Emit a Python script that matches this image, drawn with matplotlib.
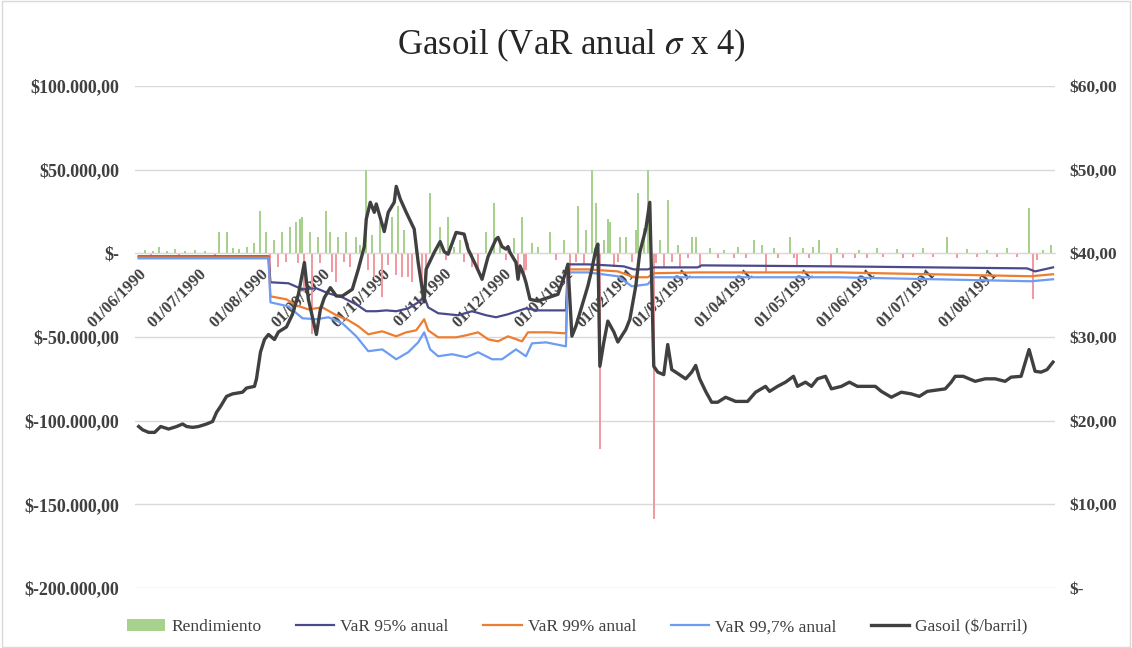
import numpy as np
import pandas as pd
import matplotlib
matplotlib.use('Agg')
import matplotlib.pyplot as plt
import matplotlib.dates as mdates
from matplotlib.ticker import FuncFormatter, MultipleLocator, FixedLocator
from matplotlib.lines import Line2D
from matplotlib.patches import Patch, Rectangle

plt.rcParams['font.family'] = ['Liberation Serif', 'DejaVu Serif']
plt.rcParams['mathtext.fontset'] = 'stix'

# all series indexed in days counted from 01/06/1990
start = pd.Timestamp('1990-06-01')

# Gasoil price ($/barril), right axis
gas_day = [0, 2, 5, 8, 11, 15, 19, 22, 24, 27,
           30, 34, 37, 39, 41, 44, 47, 52, 54, 58,
           59, 61, 63, 65, 68, 70, 74, 77, 80, 83,
           85, 89, 91, 93, 96, 99, 102, 107, 110, 113,
           114, 116, 118, 119, 123, 125, 128, 129, 131, 134,
           138, 140, 143, 144, 148, 151, 153, 155, 159, 163,
           165, 169, 172, 175, 179, 180, 182, 184, 185, 186,
           189, 190, 191, 193, 194, 196, 200, 205, 210, 213,
           215, 217, 219, 222, 225, 227, 229, 230, 231, 233,
           235, 238, 240, 244, 246, 249, 251, 254, 256, 258,
           260, 263, 265, 267, 269, 274, 277, 279, 281, 284,
           287, 290, 294, 299, 305, 309, 314, 316, 320, 324,
           328, 330, 334, 337, 340, 344, 347, 352, 356, 360,
           365, 369, 372, 377, 382, 387, 391, 395, 404, 407,
           409, 413, 419, 424, 429, 434, 437, 442, 446, 449,
           452, 455, 458]
gas_price = [19.3, 18.9, 18.6, 18.6, 19.3, 19.0, 19.3, 19.6, 19.3, 19.2,
             19.3, 19.6, 19.9, 21.0, 21.7, 22.9, 23.2, 23.4, 23.9, 24.1,
             25.0, 28.2, 29.7, 30.3, 29.7, 30.6, 31.2, 32.7, 35.1, 38.9,
             34.5, 30.3, 33.3, 34.7, 35.9, 34.9, 34.9, 35.7, 38.1, 40.8,
             44.1, 46.1, 44.9, 45.9, 42.6, 44.9, 46.1, 48.0, 46.5, 44.9,
             42.9, 38.9, 34.2, 38.1, 40.1, 41.4, 40.2, 39.9, 42.5, 42.3,
             40.5, 38.5, 36.9, 39.6, 41.7, 41.9, 40.8, 40.5, 40.8, 40.1,
             38.9, 36.9, 38.5, 37.3, 36.5, 34.5, 34.3, 34.7, 35.1, 37.1,
             38.7, 30.1, 31.3, 33.7, 36.1, 38.1, 40.5, 41.1, 26.5, 29.4,
             31.9, 30.6, 29.4, 30.9, 32.1, 36.1, 40.1, 42.9, 46.1, 26.5,
             25.8, 25.5, 29.1, 26.1, 25.8, 25.0, 25.8, 26.6, 25.0, 23.5,
             22.2, 22.2, 22.8, 22.3, 22.3, 23.4, 24.1, 23.5, 24.1, 24.6,
             25.3, 24.1, 24.6, 24.1, 25.0, 25.3, 23.8, 24.1, 24.6, 24.1,
             24.1, 24.1, 23.5, 22.8, 23.4, 23.2, 22.9, 23.5, 23.8, 24.6,
             25.3, 25.3, 24.7, 25.0, 25.0, 24.7, 25.2, 25.3, 28.5, 25.9,
             25.8, 26.1, 27.0]

# VaR 95% anual
v95_day = [0, 65, 66, 75, 82, 89, 95, 102, 109, 114, 119, 124, 129, 135, 140,
           143, 145, 150, 155, 160, 167, 174, 179, 185, 194, 200, 214, 215,
           225, 235, 243, 248, 255, 258, 280, 282, 350, 445, 449, 458]
v95_val = [-1800, -1800, -17300, -17900, -21500, -20900, -23900, -26300,
           -30500, -34600, -34600, -34100, -34600, -32900, -29300, -25700,
           -32300, -35800, -36400, -37000, -34600, -37000, -38200, -36400,
           -32900, -34100, -34100, -6600, -6600, -7200, -7800, -9600, -9600,
           -8400, -8400, -7200, -7800, -9000, -10800, -8400]

# VaR 99% anual
v99_day = [0, 65, 66, 74, 79, 85, 92, 99, 105, 110, 115, 122, 129, 134, 139,
           143, 145, 150, 159, 164, 170, 175, 180, 185, 192, 195, 205, 214,
           215, 225, 240, 248, 255, 258, 280, 350, 447, 458]
v99_val = [-2400, -2400, -25700, -27500, -31100, -33500, -32300, -37000,
           -40000, -43600, -48400, -46600, -49600, -47200, -46000, -39400,
           -46000, -50200, -50200, -49000, -47200, -51400, -52600, -49600,
           -52600, -47200, -47200, -47800, -9600, -9600, -10800, -14300,
           -14300, -11900, -11400, -11400, -13700, -12500]

# VaR 99,7% anual
v997_day = [0, 65, 66, 75, 82, 89, 95, 102, 109, 115, 122, 129, 135, 140, 143,
            146, 150, 157, 164, 170, 177, 182, 189, 194, 197, 204, 214, 215,
            225, 240, 247, 255, 258, 280, 350, 447, 458]
v997_val = [-3000, -3000, -29300, -31700, -38800, -39400, -38200, -41800,
            -49600, -58500, -57400, -63300, -59100, -53200, -47200, -57400,
            -61500, -60300, -62100, -59100, -63300, -63300, -57400, -61500,
            -53800, -53200, -55600, -11400, -11400, -13700, -19700, -18500,
            -14300, -14300, -14300, -16700, -15500]

# Rendimiento (daily result)
ren_day = [3, 6, 7, 10, 14, 18, 20, 23, 28, 33,
           38, 40, 44, 47, 50, 54, 58, 61, 64, 66,
           68, 70, 72, 74, 76, 79, 80, 81, 82, 83,
           86, 87, 90, 91, 94, 96, 97, 99, 100, 103,
           104, 106, 109, 111, 114, 115, 117, 118, 121, 122,
           125, 127, 129, 130, 132, 133, 135, 137, 139, 142,
           144, 146, 151, 154, 155, 158, 161, 163, 165, 167,
           170, 174, 178, 181, 184, 185, 188, 190, 192, 193,
           194, 197, 200, 206, 209, 213, 216, 219, 220, 223,
           224, 227, 229, 231, 233, 235, 236, 238, 240, 241,
           244, 247, 249, 250, 253, 255, 258, 259, 261, 263,
           265, 267, 270, 271, 275, 277, 279, 281, 286, 290,
           293, 298, 300, 304, 308, 312, 314, 318, 320, 326,
           328, 330, 333, 336, 338, 341, 347, 350, 353, 359,
           361, 365, 370, 373, 380, 383, 388, 393, 398, 405,
           410, 415, 420, 425, 430, 435, 440, 446, 448, 450,
           453, 457]
ren_val = [2000, -1000, 1500, 3500, 1500, 2500, -1000, 1500, 2000, 1500,
           -1500, 12500, 13000, 3000, 2500, 4000, 6000, 25000, 13000, -18000,
           8000, -8000, 13000, -5000, 16000, 18500, -6000, 20500, 22000, -23000,
           12500, -48000, 10000, -6000, 25000, 12500, -11000, -17000, 10000, -5000,
           13000, -8000, 10000, 5000, 50000, -10000, 11000, -14000, 18500, -26000,
           -7000, 22000, -13000, 28000, -14000, 14000, -14000, -17000, 6000, -29000,
           -10000, 36000, 16000, -4000, 22000, 4000, 8000, -5000, 6000, -8000,
           -9000, 12500, 30000, 8000, -4000, 5000, 9000, -10000, 22000, -15000,
           -10000, 6000, 4000, 12500, -4000, 8000, -13000, -5000, 28000, -7000,
           14000, 50000, 30000, -117000, 8000, 20500, 18500, -8000, -5000, 10000,
           10000, -5000, 14000, 36000, 15000, 50000, -159000, -6000, 8000, -8000,
           32000, -5000, 5000, -8000, -3000, 10000, 10000, -9000, 3000, -3000,
           2000, -3000, 4000, -2500, 8000, 5000, -11000, 3000, -3000, 9500,
           -3000, -8000, 3000, -3000, 4000, 8000, -8000, 3000, -3000, -2500,
           2000, -2500, 3000, -2000, 2500, -2500, -2000, 3000, -2000, 9500,
           -2500, 2500, -2000, 2000, -2000, 3000, -2000, 27000, -27000, -4000,
           2000, 5000]

# month labels on the category axis
month_ticks = pd.date_range('1990-06-01', '1991-08-01', freq='MS')


def to_dates(days):
    return start + pd.to_timedelta(days, unit='D')


def fmt_left(v, pos):
    if abs(v) < 1e-6:
        return '$-'
    s = f'{abs(v):,.2f}'.replace(',', 'X').replace('.', ',').replace('X', '.')
    return ('$-' if v < 0 else '$') + s


def fmt_right(v, pos):
    if abs(v) < 1e-6:
        return '$-'
    return '$' + f'{v:.2f}'.replace('.', ',')


txt = '#404040'
fig = plt.figure(figsize=(11.32, 6.48), dpi=100)
ax = fig.add_axes([0.119, 0.0926, 0.813, 0.7747])

ren_colors = ['#a9d18e' if v >= 0 else '#f09aa2' for v in ren_val]
ax.bar(to_dates(ren_day), ren_val, width=1.0, color=ren_colors, zorder=2)
ax.plot(to_dates(v95_day), v95_val, color='#4b4a8c', lw=1.6, zorder=3)
ax.plot(to_dates(v99_day), v99_val, color='#ed7d31', lw=1.6, zorder=3)
ax.plot(to_dates(v997_day), v997_val, color='#6d9cf2', lw=1.6, zorder=3)

ax.set_ylim(-200000, 100000)
ax.yaxis.set_major_locator(MultipleLocator(50000))
ax.yaxis.set_major_formatter(FuncFormatter(fmt_left))
ax.grid(axis='y', color='#d9d9d9', lw=1)
ax.set_axisbelow(True)
ax.set_xlim(start - pd.Timedelta(days=2), start + pd.Timedelta(days=459))

ax.xaxis.set_major_locator(FixedLocator(mdates.date2num(month_ticks)))
ax.xaxis.set_major_formatter(mdates.DateFormatter('%d/%m/%Y'))
ax.spines['bottom'].set_position(('data', 0))
ax.spines['bottom'].set_color('#d9d9d9')
for s in ['top', 'left', 'right']:
    ax.spines[s].set_visible(False)
ax.tick_params(axis='x', length=0, pad=9, labelsize=12, labelcolor=txt)
ax.tick_params(axis='y', length=0, pad=11, labelsize=13, labelcolor=txt)
for lbl in ax.get_xticklabels():
    lbl.set_rotation(45)
    lbl.set_ha('right')
    lbl.set_rotation_mode('anchor')
    lbl.set_fontweight('bold')
for lbl in ax.get_yticklabels():
    lbl.set_fontweight('bold')

ax2 = ax.twinx()
ax2.plot(to_dates(gas_day), gas_price, color='#404040', lw=2.4, zorder=4)
ax2.set_ylim(0, 60)
ax2.yaxis.set_major_locator(MultipleLocator(10))
ax2.yaxis.set_major_formatter(FuncFormatter(fmt_right))
for s in ax2.spines.values():
    s.set_visible(False)
ax2.tick_params(axis='y', length=0, pad=10, labelsize=12.5, labelcolor=txt)
for lbl in ax2.get_yticklabels():
    lbl.set_fontweight('bold')

fig.text(0.505, 0.93, r'Gasoil (VaR anual $\sigma$ x 4)', ha='center', va='center',
         fontsize=25, color='#262626')

handles = [Patch(facecolor='#a9d18e'),
           Line2D([], [], color='#4b4a8c', lw=1.6),
           Line2D([], [], color='#ed7d31', lw=1.6),
           Line2D([], [], color='#6d9cf2', lw=1.6),
           Line2D([], [], color='#404040', lw=2.4)]
labels = ['Rendimiento', 'VaR 95% anual', 'VaR 99% anual', 'VaR 99,7% anual',
          'Gasoil ($/barril)']
fig.legend(handles, labels, loc='center', bbox_to_anchor=(0.51, 0.032), ncol=5,
           frameon=False, fontsize=12.5, handlelength=2.2, handletextpad=0.35,
           columnspacing=2.0, labelcolor=txt)

fig.patches.append(Rectangle((0.002, 0.002), 0.996, 0.996, transform=fig.transFigure,
                             fill=False, edgecolor='#d9d9d9', lw=1))

fig.savefig('out.png', dpi=100)
